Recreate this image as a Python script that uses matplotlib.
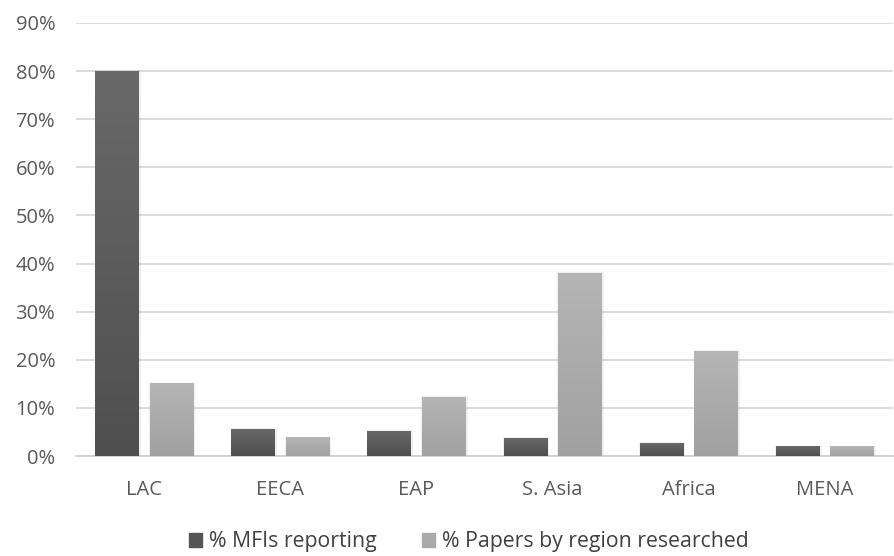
import numpy as np
import matplotlib.pyplot as plt
from matplotlib.patches import Patch

plt.rcParams['font.family'] = ['Open Sans', 'DejaVu Sans']

regions = ['LAC', 'EECA', 'EAP', 'S. Asia', 'Africa', 'MENA']
mfis_reporting = [80.0, 5.7, 5.3, 3.8, 2.7, 2.0]
papers_by_region = [15.1, 3.9, 12.3, 38.1, 21.8, 2.0]
series_names = ['% MFIs reporting', '% Papers by region researched']

fig = plt.figure(figsize=(8.95, 5.56), dpi=100)
ax = fig.add_axes([76 / 895, 100 / 556, (893 - 76) / 895, (456 - 23) / 556])

x = np.arange(len(regions))
w = 0.32
off = 0.2


def gradient_bars(xs, vals, top_col, bot_col):
    bars = ax.bar(xs, vals, w, color='none', edgecolor='none', zorder=3)
    grad = np.linspace(0, 1, 256).reshape(-1, 1)
    top = np.array(top_col)
    bot = np.array(bot_col)
    for b, v in zip(bars, vals):
        x0 = b.get_x()
        # soft shadow behind each bar
        ax.bar(x0 + w / 2 + 0.006, v + 0.15, w + 0.02, color='#000000',
               alpha=0.06, edgecolor='none', zorder=2)
        img = bot + (top - bot) * grad[:, :, None] * np.ones((1, 2, 1))
        im = ax.imshow(img, extent=[x0, x0 + w, 0, v], origin='lower',
                       aspect='auto', zorder=3)
        im.set_clip_path(b)
    return bars


gradient_bars(x - off, mfis_reporting, (0.41, 0.41, 0.41), (0.31, 0.31, 0.31))
gradient_bars(x + off, papers_by_region, (0.71, 0.71, 0.71), (0.63, 0.63, 0.63))

ax.set_xlim(-0.5, len(regions) - 0.5)
ax.set_ylim(0, 90)
ax.set_yticks(np.arange(0, 91, 10))
ax.set_yticklabels([f'{v}%' for v in range(0, 91, 10)])
ax.set_xticks(x)
ax.set_xticklabels(regions)
ax.tick_params(axis='both', length=0, labelsize=14.5, colors='#595959')
ax.tick_params(axis='x', pad=17)
ax.tick_params(axis='y', pad=15)
ax.grid(axis='y', color='#d9d9d9', linewidth=1.3, zorder=0)
ax.set_axisbelow(True)
for s in ['top', 'right', 'left']:
    ax.spines[s].set_visible(False)
ax.spines['bottom'].set_color('#d0d0d0')
ax.spines['bottom'].set_linewidth(1.3)

handles = [Patch(color='#555555'), Patch(color='#aaaaaa')]
fig.legend(handles, series_names, loc='center', bbox_to_anchor=(469 / 895, 1 - 542 / 556),
           ncol=2, frameon=False, fontsize=15.3, labelcolor='#404040',
           handlelength=0.6, handleheight=0.6, handletextpad=0.35, columnspacing=2.1)

fig.savefig('out.png', dpi=100)
